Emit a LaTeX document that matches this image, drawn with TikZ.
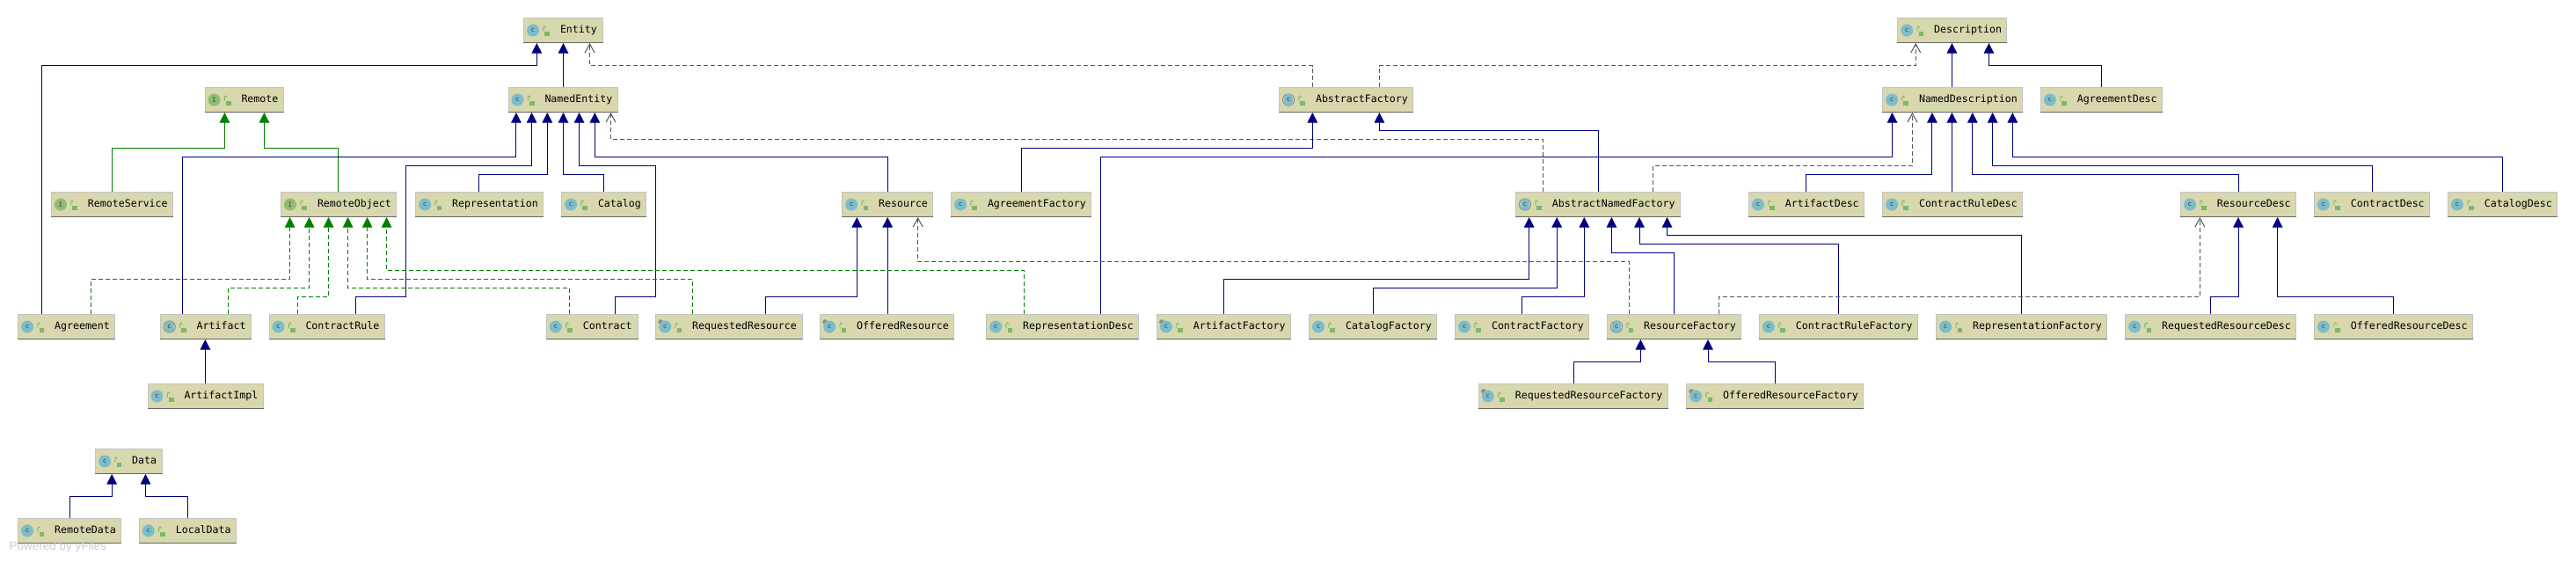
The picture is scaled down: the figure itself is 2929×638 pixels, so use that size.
\documentclass[tikz,border=0pt]{standalone}
\usepackage{fontspec}
\usetikzlibrary{arrows.meta}
\newfontfamily\umlmono{DejaVu Sans Mono}
\newfontfamily\umlsans{Liberation Sans}
\definecolor{boxfill}{HTML}{D8D7AD}
\definecolor{boxedge}{HTML}{C4C4C4}
\definecolor{boxbase}{HTML}{666666}
\definecolor{icteal}{HTML}{7CBDCB}
\definecolor{icgreen}{HTML}{8DBE6F}
\definecolor{lockgreen}{HTML}{7DB961}
\definecolor{depgray}{HTML}{555555}
\definecolor{inhblue}{HTML}{000080}
\definecolor{implgreen}{HTML}{008000}
\tikzset{
  clsbox/.style={draw=boxedge,fill=boxfill,line width=1pt,minimum height=28pt,inner xsep=0pt,inner ysep=0pt,
    font=\umlmono\fontsize{11.6}{14}\selectfont,text=black,text height=8.5pt,text depth=2.5pt},
  icl/.style={inner sep=0pt,font=\umlmono\fontsize{7.5}{8}\selectfont},
  inh/.style={color=inhblue,line width=1pt,-{Triangle[length=11.5pt,width=11.5pt]}},
  real/.style={color=implgreen,line width=1pt,-{Triangle[length=11.5pt,width=11.5pt]}},
  impl/.style={color=implgreen,line width=0.9pt,dash pattern=on 5pt off 3pt,-{Triangle[length=11.5pt,width=11.5pt]}},
  dep/.style={color=depgray,line width=1pt,dash pattern=on 5pt off 3pt,-{Straight Barb[length=10pt,width=11pt]}}
}
\newcommand\umlic[1]{\fill[icteal] ([xshift=11pt]#1.west) circle (7pt);
  \node[icl,text=black!75] (#1-ic) at ([xshift=11pt]#1.west) {c};}
\newcommand\umlii[1]{\fill[icgreen] ([xshift=11pt]#1.west) circle (7pt);
  \node[icl,text=black!75] (#1-ic) at ([xshift=11pt]#1.west) {I};}
\newcommand\umlia[1]{\draw[black!45,line width=1pt] ([xshift=11pt]#1.west) circle (6.6pt);
  \fill[icteal] ([xshift=11pt]#1.west) ellipse (5pt and 7pt);
  \node[icl,text=black!75] (#1-ic) at ([xshift=11pt]#1.west) {c};}
\newcommand\umlip[1]{\fill[black!45] ([xshift=6pt,yshift=5.5pt]#1.west) circle (2.8pt);
  \fill[icteal] ([xshift=11pt]#1.west) circle (7pt);
  \node[icl,text=black!75] (#1-ic) at ([xshift=11pt]#1.west) {c};}
% kind (c,i,a,p), name, left, right, top, text
\newcommand\cls[6][c]{%
  \pgfmathsetmacro\clsW{#4-#3}\pgfmathsetmacro\clsX{(#3+#4)/2}\pgfmathsetmacro\clsY{#5+14}%
  \node[clsbox,minimum width=\clsW pt] (#2) at (\clsX,\clsY) {\makebox[\clsW pt][l]{\hspace{41.5pt}#6}};
  \draw[boxbase,line width=1.6pt] ([yshift=0.6pt]#2.south west) -- ([yshift=0.6pt]#2.south east);
  \csname umli#1\endcsname{#2}
  \fill[lockgreen] ([xshift=24.4pt,yshift=-1pt]#2.west) rectangle ([xshift=30pt,yshift=-6.2pt]#2.west);
  \draw[lockgreen,line width=0.9pt] ([xshift=22.8pt,yshift=-1pt]#2.west) -- ([xshift=22.8pt,yshift=3pt]#2.west)
    .. controls ([xshift=23.2pt,yshift=5pt]#2.west) and ([xshift=25pt,yshift=5pt]#2.west) .. ([xshift=25.6pt,yshift=3pt]#2.west);
}
% style, source, source x, bend y, target x, target
\newcommand\edb[6]{\draw[#1] (#3,0 |- #2.north) -- (#3,#4) -- (#5,#4) -- (#5,0 |- #6.south);}
\newcommand\eds[4]{\draw[#1] (#3,0 |- #2.north) -- (#3,0 |- #4.south);}
\begin{document}
\begin{tikzpicture}[x=1pt,y=-1pt]
\useasboundingbox (0,0) rectangle (2929,638);
\begin{scope}[yshift=-0.2pt]
% row A
\cls{entity}{595.5}{685}{20.3}{Entity}
\cls{description}{2157.7}{2281.8}{20.3}{Description}
% row B
\cls[i]{remote}{233}{322}{99.3}{Remote}
\cls{namedentity}{578}{702.6}{99.3}{NamedEntity}
\cls[a]{abstractfactory}{1454.5}{1606.7}{99.3}{AbstractFactory}
\cls{nameddescription}{2140.5}{2299.5}{99.3}{NamedDescription}
\cls{agreementdesc}{2320.4}{2458.5}{99.3}{AgreementDesc}
% row C
\cls[i]{remoteservice}{58.4}{196.6}{218.3}{RemoteService}
\cls[i]{remoteobject}{319.5}{450.6}{218.3}{RemoteObject}
\cls{representation}{472.6}{617.5}{218.3}{Representation}
\cls{catalog}{638.5}{734.7}{218.3}{Catalog}
\cls{resource}{957.6}{1060.4}{218.3}{Resource}
\cls{agreementfactory}{1081.5}{1240.7}{218.3}{AgreementFactory}
\cls[a]{abstractnamedfactory}{1723.4}{1910.4}{218.3}{AbstractNamedFactory}
\cls{artifactdesc}{1988.4}{2119.4}{218.3}{ArtifactDesc}
\cls{contractruledesc}{2140.5}{2299.5}{218.3}{ContractRuleDesc}
\cls{resourcedesc}{2479.4}{2610.5}{218.3}{ResourceDesc}
\cls{contractdesc}{2631.4}{2762.5}{218.3}{ContractDesc}
\cls{catalogdesc}{2783.4}{2907.6}{218.3}{CatalogDesc}
% row D
\cls{agreement}{20.6}{130.6}{357.3}{Agreement}
\cls[a]{artifact}{182.2}{285.6}{357.3}{Artifact}
\cls{contractrule}{306}{437.7}{357.3}{ContractRule}
\cls{contract}{621.3}{725}{357.3}{Contract}
\cls[p]{requestedresource}{745.7}{912}{357.3}{RequestedResource}
\cls[p]{offeredresource}{932.7}{1084.8}{357.3}{OfferedResource}
\cls{representationdesc}{1121.6}{1294.3}{357.3}{RepresentationDesc}
\cls[p]{artifactfactory}{1315.4}{1467.5}{357.3}{ArtifactFactory}
\cls{catalogfactory}{1488.5}{1633.4}{357.3}{CatalogFactory}
\cls{contractfactory}{1654.5}{1806.6}{357.3}{ContractFactory}
\cls[a]{resourcefactory}{1827.6}{1979.7}{357.3}{ResourceFactory}
\cls{contractrulefactory}{2000.3}{2180.6}{357.3}{ContractRuleFactory}
\cls{representationfactory}{2201.7}{2395.7}{357.3}{RepresentationFactory}
\cls{requestedresourcedesc}{2416.6}{2610.5}{357.3}{RequestedResourceDesc}
\cls{offeredresourcedesc}{2631.4}{2811.3}{357.3}{OfferedResourceDesc}
% row E
\cls{artifactimpl}{168}{299.4}{436.3}{ArtifactImpl}
\cls[p]{requestedresourcefactory}{1681.3}{1896.5}{436.3}{RequestedResourceFactory}
\cls[p]{offeredresourcefactory}{1917.6}{2118.5}{436.3}{OfferedResourceFactory}
% rows F, G
\cls{data}{108.6}{184}{510.3}{Data}
\cls{remotedata}{20.6}{137.8}{589.3}{RemoteData}
\cls{localdata}{158.3}{268.3}{589.3}{LocalData}
% watermark
\node[anchor=west,inner sep=0pt,text=black!20,font=\umlsans\fontsize{13.5}{15}\selectfont] (poweredby) at (10.5,621.7) {Powered by yFiles};
% edges into Entity
\edb{inh}{agreement}{47.4}{74.3}{610.3}{entity}
\eds{inh}{namedentity}{640.5}{entity}
\edb{dep}{abstractfactory}{1492.3}{74.3}{670.6}{entity}
% edges into Description
\edb{dep}{abstractfactory}{1568.4}{74.3}{2178.2}{description}
\eds{inh}{nameddescription}{2219.4}{description}
\edb{inh}{agreementdesc}{2389.7}{74.3}{2261.4}{description}
% edges into Remote
\edb{real}{remoteservice}{127.7}{168.3}{255.4}{remote}
\edb{real}{remoteobject}{384.6}{168.3}{300.4}{remote}
% edges into NamedEntity
\edb{inh}{artifact}{207.6}{178.3}{586.9}{namedentity}
\draw[inh] (404.6,0 |- contractrule.north) -- (404.6,337.3) -- (461.6,337.3) -- (461.6,188.3) -- (604.6,188.3) -- (604.6,0 |- namedentity.south);
\edb{inh}{representation}{544.3}{198.3}{622.3}{namedentity}
\edb{inh}{catalog}{686.4}{198.3}{640.5}{namedentity}
\draw[inh] (699.3,0 |- contract.north) -- (699.3,337.3) -- (745.7,337.3) -- (745.7,188.3) -- (658.6,188.3) -- (658.6,0 |- namedentity.south);
\edb{inh}{resource}{1009.2}{178.3}{676.3}{namedentity}
\edb{dep}{abstractnamedfactory}{1754.5}{158.3}{694.5}{namedentity}
% edges into AbstractFactory
\edb{inh}{agreementfactory}{1161.3}{168.3}{1492.3}{abstractfactory}
\edb{inh}{abstractnamedfactory}{1817.6}{148.3}{1568.4}{abstractfactory}
% edges into NamedDescription
\edb{inh}{representationdesc}{1251.3}{178.3}{2151.5}{nameddescription}
\edb{dep}{abstractnamedfactory}{1879.3}{188.3}{2174.4}{nameddescription}
\edb{inh}{artifactdesc}{2053.4}{198.3}{2196.9}{nameddescription}
\eds{inh}{contractruledesc}{2219.4}{nameddescription}
\edb{inh}{resourcedesc}{2545.4}{198.3}{2242.8}{nameddescription}
\edb{inh}{contractdesc}{2697.4}{188.3}{2265.6}{nameddescription}
\edb{inh}{catalogdesc}{2845.3}{178.3}{2288.3}{nameddescription}
% edges into RemoteObject
\edb{impl}{agreement}{103.3}{317.3}{329.6}{remoteobject}
\edb{impl}{artifact}{259.2}{327.3}{351.6}{remoteobject}
\edb{impl}{contractrule}{338.6}{337.3}{373.6}{remoteobject}
\edb{impl}{contract}{647.6}{327.3}{395.6}{remoteobject}
\edb{impl}{requestedresource}{787.3}{317.3}{417.6}{remoteobject}
\edb{impl}{representationdesc}{1164.7}{307.3}{439.6}{remoteobject}
% edges into Resource
\edb{inh}{requestedresource}{870.5}{337.3}{974.3}{resource}
\eds{inh}{offeredresource}{1009.2}{resource}
\edb{dep}{resourcefactory}{1852.5}{297.3}{1043.7}{resource}
% edges into AbstractNamedFactory
\edb{inh}{artifactfactory}{1391.4}{317.3}{1738.7}{abstractnamedfactory}
\edb{inh}{catalogfactory}{1561.7}{327.3}{1770.2}{abstractnamedfactory}
\edb{inh}{contractfactory}{1730.5}{337.3}{1801.3}{abstractnamedfactory}
\edb{inh}{resourcefactory}{1903.7}{287.3}{1832.4}{abstractnamedfactory}
\edb{inh}{contractrulefactory}{2090.2}{277.3}{1864}{abstractnamedfactory}
\edb{inh}{representationfactory}{2298.6}{267.3}{1895.6}{abstractnamedfactory}
% edges into ResourceFactory
\edb{inh}{requestedresourcefactory}{1789.4}{411.3}{1865.4}{resourcefactory}
\edb{inh}{offeredresourcefactory}{2018.5}{411.3}{1942}{resourcefactory}
% edges into ResourceDesc
\edb{dep}{resourcefactory}{1954.4}{337.3}{2501.3}{resourcedesc}
\edb{inh}{requestedresourcedesc}{2513.3}{337.3}{2545}{resourcedesc}
\edb{inh}{offeredresourcedesc}{2721.6}{337.3}{2589.6}{resourcedesc}
% Artifact, Data
\eds{inh}{artifactimpl}{233.4}{artifact}
\edb{inh}{remotedata}{79.4}{564.3}{127.2}{data}
\edb{inh}{localdata}{213.3}{564.3}{165.5}{data}
\end{scope}
\end{tikzpicture}
\end{document}
